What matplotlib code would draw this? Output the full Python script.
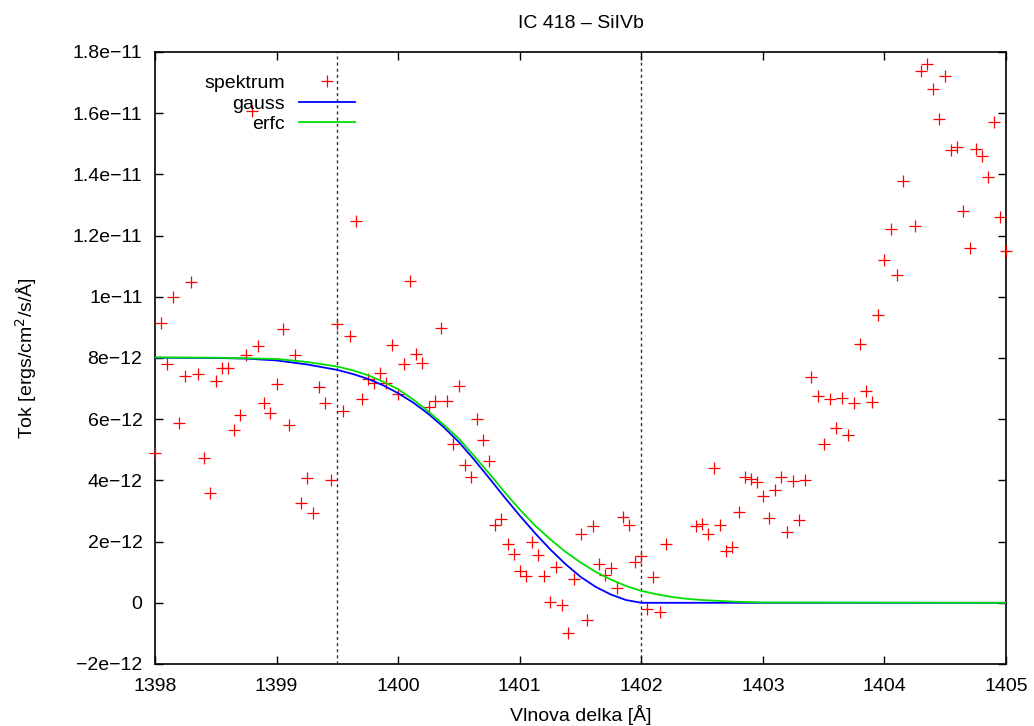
import matplotlib
matplotlib.use("Agg")
import matplotlib.pyplot as plt

plt.rcParams["font.family"] = ["Liberation Sans", "DejaVu Sans"]

# spectrum points (wavelength in A, flux in 1e-12 ergs/cm2/s/A)
wavelength = [
    1398.00, 1398.05, 1398.10, 1398.15, 1398.20, 1398.25, 1398.30, 1398.35, 1398.40, 1398.45,
    1398.50, 1398.55, 1398.60, 1398.65, 1398.70, 1398.75, 1398.80, 1398.85, 1398.90, 1398.95,
    1399.00, 1399.05, 1399.10, 1399.15, 1399.20, 1399.25, 1399.30, 1399.35, 1399.40, 1399.45,
    1399.50, 1399.55, 1399.60, 1399.65, 1399.70, 1399.75, 1399.80, 1399.85, 1399.90, 1399.95,
    1400.00, 1400.05, 1400.10, 1400.15, 1400.20, 1400.25, 1400.30, 1400.35, 1400.40, 1400.45,
    1400.50, 1400.55, 1400.60, 1400.65, 1400.70, 1400.75, 1400.80, 1400.85, 1400.90, 1400.95,
    1401.00, 1401.05, 1401.10, 1401.15, 1401.20, 1401.25, 1401.30, 1401.35, 1401.40, 1401.45,
    1401.50, 1401.55, 1401.60, 1401.65, 1401.70, 1401.75, 1401.80, 1401.85, 1401.90, 1401.95,
    1402.00, 1402.05, 1402.10, 1402.15, 1402.20,
    1402.45, 1402.50, 1402.55, 1402.60, 1402.65, 1402.70, 1402.75, 1402.80, 1402.85, 1402.90, 1402.95,
    1403.00, 1403.05, 1403.10, 1403.15, 1403.20, 1403.25, 1403.30, 1403.35, 1403.40, 1403.45,
    1403.50, 1403.55, 1403.60, 1403.65, 1403.70, 1403.75, 1403.80, 1403.85, 1403.90, 1403.95,
    1404.00, 1404.05, 1404.10, 1404.15,
    1404.25, 1404.30, 1404.35, 1404.40, 1404.45, 1404.50, 1404.55, 1404.60, 1404.65, 1404.70,
    1404.75, 1404.80, 1404.85, 1404.90, 1404.95, 1405.00,
]
flux = [
    4.90, 9.15, 7.80, 10.00, 5.88, 7.42, 10.50, 7.47, 4.72, 3.58,
    7.24, 7.66, 7.66, 5.65, 6.14, 8.11, 16.08, 8.40, 6.52, 6.21,
    7.16, 8.95, 5.80, 8.09, 3.25, 4.07, 2.92, 7.06, 6.54, 4.00,
    9.12, 6.28, 8.71, 12.49, 6.65, 7.31, 7.19, 7.52, 7.19, 8.42,
    6.81, 7.79, 10.52, 8.13, 7.84, 6.39, 6.58, 8.97, 6.60, 5.20,
    7.09, 4.49, 4.10, 6.00, 5.33, 4.63, 2.54, 2.75, 1.91, 1.60,
    1.05, 0.87, 1.99, 1.56, 0.89, 0.04, 1.16, -0.07, -0.99, 0.78,
    2.25, -0.56, 2.52, 1.27, 0.92, 1.14, 0.49, 2.79, 2.53, 1.33,
    1.53, -0.20, 0.84, -0.31, 1.93,
    2.51, 2.58, 2.25, 4.41, 2.55, 1.70, 1.83, 2.97, 4.10, 4.06, 3.94,
    3.49, 2.78, 3.69, 4.12, 2.32, 3.98, 2.70, 4.01, 7.37, 6.76,
    5.19, 6.67, 5.71, 6.69, 5.50, 6.54, 8.47, 6.92, 6.55, 9.40,
    11.20, 12.20, 10.70, 13.80,
    12.31, 17.39, 17.60, 16.80, 15.80, 17.22, 14.80, 14.90, 12.80, 11.60,
    14.82, 14.60, 13.90, 15.70, 12.60, 11.50,
]

# fitted curves (1e-12 units)
gauss_x = [1398.0, 1398.5, 1398.75, 1399.0, 1399.25, 1399.5, 1399.625, 1399.75, 1399.875,
           1400.0, 1400.125, 1400.25, 1400.375, 1400.5, 1400.625, 1400.75, 1400.875,
           1401.0, 1401.125, 1401.25, 1401.375, 1401.5, 1401.625, 1401.75, 1401.875,
           1402.0, 1405.0]
gauss_y = [8.01, 8.00, 7.98, 7.92, 7.79, 7.61, 7.48, 7.32, 7.11,
           6.85, 6.54, 6.17, 5.74, 5.25, 4.68, 4.07, 3.45,
           2.85, 2.28, 1.75, 1.27, 0.85, 0.52, 0.27, 0.09,
           0.0, 0.0]
erfc_x = [1398.0, 1398.5, 1399.0, 1399.25, 1399.5, 1399.625, 1399.75, 1399.875,
          1400.0, 1400.125, 1400.25, 1400.375, 1400.5, 1400.625, 1400.75, 1400.875,
          1401.0, 1401.125, 1401.25, 1401.375, 1401.5, 1401.625, 1401.75, 1401.875,
          1402.0, 1402.125, 1402.25, 1402.375, 1402.5, 1402.75, 1403.0, 1405.0]
erfc_y = [8.02, 8.01, 7.97, 7.87, 7.72, 7.60, 7.44, 7.23,
          6.98, 6.64, 6.25, 5.82, 5.36, 4.80, 4.22, 3.62,
          3.05, 2.53, 2.08, 1.67, 1.32, 1.01, 0.76, 0.55,
          0.39, 0.28, 0.19, 0.13, 0.09, 0.04, 0.01, 0.0]

marker_lines = [1399.5, 1402.0]

x_ticks = [1398, 1399, 1400, 1401, 1402, 1403, 1404, 1405]
y_ticks = [-2e-12, 0, 2e-12, 4e-12, 6e-12, 8e-12, 1e-11, 1.2e-11, 1.4e-11, 1.6e-11, 1.8e-11]
y_tick_labels = ["\u22122e\u221212", "0", "2e\u221212", "4e\u221212", "6e\u221212", "8e\u221212",
                 "1e\u221211", "1.2e\u221211", "1.4e\u221211", "1.6e\u221211", "1.8e\u221211"]

SCALE = 1e-12
FS = 14


def main():
    fig = plt.figure(figsize=(10.34, 7.26), dpi=100)
    ax = fig.add_axes([155 / 1034, 62 / 726, 851 / 1034, 612 / 726])

    for xv in marker_lines:
        ax.axvline(xv, color="#333333", lw=1.0, linestyle=(0, (2.2, 2.2)), zorder=1)

    ax.plot(wavelength, [v * SCALE for v in flux], linestyle="none", marker="+",
            markersize=8, markeredgewidth=0.9, color="#ff0000", label="spektrum",
            clip_on=False, zorder=3)
    ax.plot(gauss_x, [v * SCALE for v in gauss_y], color="#0000ff", lw=1.3,
            label="gauss", zorder=4)
    ax.plot(erfc_x, [v * SCALE for v in erfc_y], color="#00e000", lw=1.3,
            label="erfc", zorder=5)

    ax.set_xlim(1398, 1405)
    ax.set_ylim(-2e-12, 1.8e-11)
    ax.set_xticks(x_ticks)
    ax.set_xticklabels([str(t) for t in x_ticks])
    ax.set_yticks(y_ticks)
    ax.set_yticklabels(y_tick_labels)
    ax.tick_params(direction="in", length=6, width=1.0, top=True, right=True,
                   labelsize=FS)
    ax.tick_params(axis="y", pad=9)
    ax.tick_params(axis="x", pad=10)
    for sp in ax.spines.values():
        sp.set_linewidth(1.2)

    ax.set_title("IC 418 \u2013 SiIVb", fontsize=FS, pad=17)
    ax.set_xlabel("Vlnova delka [\u00c5]", fontsize=FS, labelpad=7)
    ax.set_ylabel("Tok [ergs/cm$^2$/s/\u00c5]", fontsize=FS, labelpad=24)

    ax.legend(loc="upper right", bbox_to_anchor=(0.235, 0.963), markerfirst=False,
              frameon=False, fontsize=FS, handlelength=2.9, handletextpad=0.7,
              labelspacing=0.14, borderpad=0, borderaxespad=0)

    fig.savefig("out.png", dpi=100)


if __name__ == "__main__":
    main()
